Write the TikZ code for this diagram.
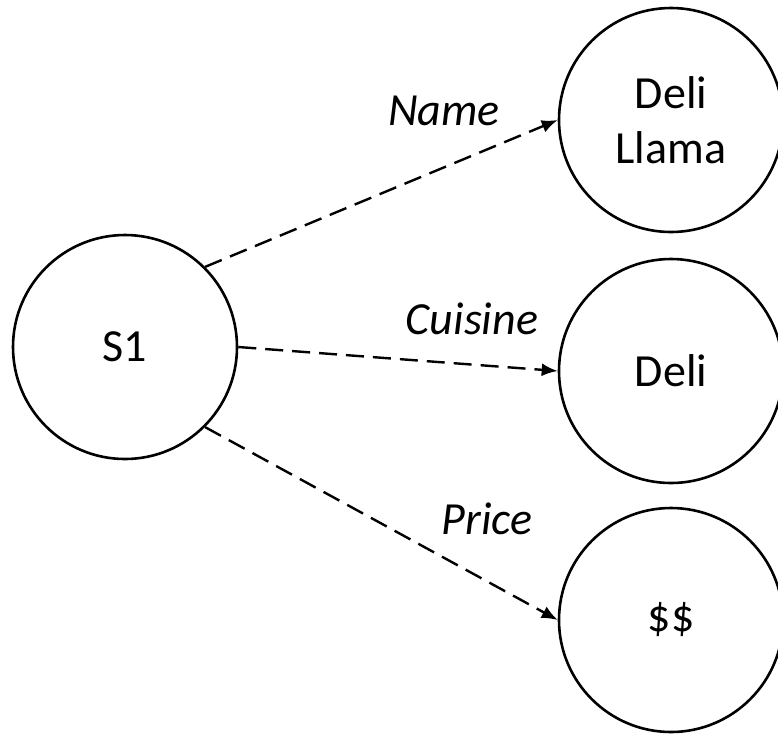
\documentclass[tikz,border=0pt]{standalone}
\usepackage{fontspec}
\setmainfont{Carlito}
\usetikzlibrary{positioning,arrows.meta}
\tikzset{
  state/.style = {draw, circle, line width=1.3pt, minimum size=112pt, inner sep=0pt, align=center},
  link/.style = {line width=1.2pt, dash pattern=on 9pt off 4.5pt, -{Latex[length=8pt,width=6.5pt]}},
  lbl/.style = {font=\fontsize{23}{27.5}\selectfont\itshape, inner sep=0pt}
}

\begin{document}
\begin{tikzpicture}[x=0.5pt, y=-0.5pt, font=\fontsize{23}{27.5}\selectfont]
\useasboundingbox (0,0) rectangle (778,735);
% subject and its values
\node[state] (s1) at (125,347) {S1};
\node[state] (llama) at (671,120) {Deli\\Llama};
\node[state] (deli) at (671,371) {Deli};
\node[state] (dollars) at (671,620) {\$\$};

% properties
\draw[link] (s1.45) -- (llama.west);
\draw[link] (s1.east) -- (deli.west);
\draw[link] (s1.-45) -- (dollars.west);

\node[lbl] (lname) at (444,111) {Name};
\node[lbl] (lcuisine) at (472,319) {Cuisine};
\node[lbl] (lprice) at (487,519) {Price};
\end{tikzpicture}
\end{document}
